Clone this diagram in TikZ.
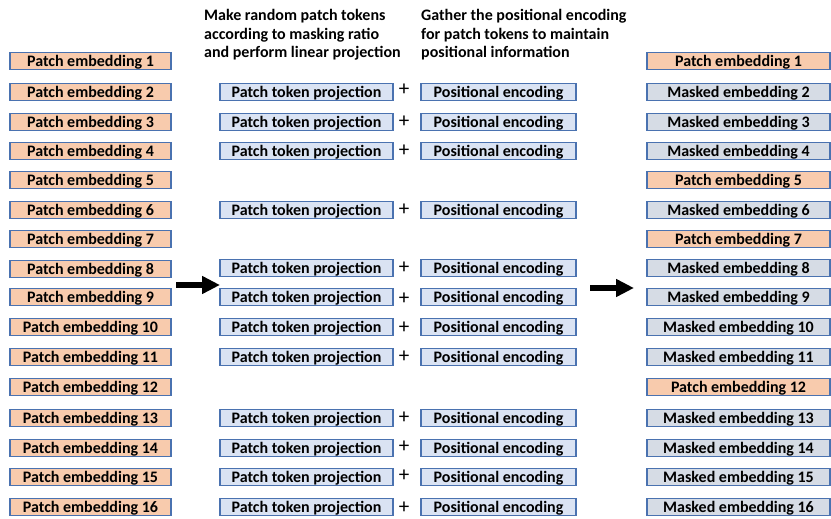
\documentclass[tikz,border=0pt]{standalone}
\usepackage{fontspec}
\setmainfont{Carlito}
\usetikzlibrary{arrows.meta}
\definecolor{bord}{HTML}{4A72B0}
\definecolor{orangefill}{HTML}{F8CBAD}
\definecolor{bluefill}{HTML}{DAE3F3}
\definecolor{maskfill}{HTML}{D6DCE5}
\begin{document}
\begin{tikzpicture}[x=1pt,y=-1pt,
  box/.style={draw=bord, line width=1.1pt, inner sep=0pt, minimum height=17.5pt,
    text height=11pt, text depth=0pt,
    font=\fontsize{16}{18}\selectfont\bfseries},
  leftbox/.style={box, fill=orangefill, minimum width=161pt},
  ptpbox/.style={box, fill=bluefill, minimum width=173pt},
  pebox/.style={box, fill=bluefill, minimum width=155pt},
  rmask/.style={box, fill=maskfill, minimum width=183pt},
  rpatch/.style={box, fill=orangefill, minimum width=183pt},
  plussign/.style={inner sep=0pt, font=\fontsize{21}{22}\selectfont},
  header/.style={anchor=north west, inner sep=0pt, align=left,
    font=\fontsize{16}{18.7}\selectfont\bfseries},
  bigarrow/.style={line width=6.5pt, -{Triangle[length=18pt,width=17pt]}}]
\useasboundingbox (0,0) rectangle (831,519);
\node[header] (h1) at (204,9) {Make random patch tokens\\according to masking ratio\\and perform linear projection};
\node[header] (h2) at (421,9) {Gather the positional encoding\\for patch tokens to maintain\\positional information};
\foreach \i/\y in {1/61,2/92,3/122,4/151,5/180,6/210,7/239,8/269,9/297,10/327,11/357,12/387,13/418,14/448,15/477,16/507}{
  \node[leftbox] (L\i) at (90.5,\y) {Patch embedding \i};
}
\foreach \i/\y/\py in {2/92/90,3/122/121.7,4/151/150.7,6/210/210,8/268/268,9/297/299,10/327/328,11/357/357,13/418/418,14/448/447,15/477/476,16/507/508}{
  \node[ptpbox] (M\i) at (306.5,\y) {Patch token projection};
  \node[plussign] (P\i) at (404,\py) {+};
  \node[pebox] (E\i) at (498.5,\y) {Positional encoding};
  \node[rmask] (R\i) at (738.5,\y) {Masked embedding \i};
}
\foreach \i/\y in {1/61,5/180,7/239,12/387}{
  \node[rpatch] (R\i) at (738.5,\y) {Patch embedding \i};
}
\coordinate (a1s) at (176,285);
\coordinate (a1e) at (220,285);
\coordinate (a2s) at (590,288);
\coordinate (a2e) at (634,288);
\draw[bigarrow] (a1s) -- (a1e);
\draw[bigarrow] (a2s) -- (a2e);
\end{tikzpicture}
\end{document}
